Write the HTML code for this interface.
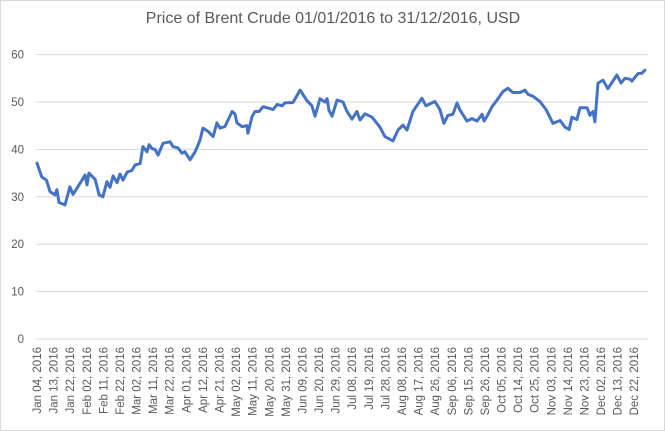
<!DOCTYPE html>
<html><head><meta charset="utf-8"><style>
body{margin:0;background:#fff;}
svg{display:block;font-family:"Liberation Sans",sans-serif;}
</style></head><body>
<svg id="chart" width="665" height="431" viewBox="0 0 665 431">
<rect x="0.5" y="0.5" width="664" height="430" fill="#fff" stroke="#d9d9d9"/>
<text x="333" y="23" text-anchor="middle" font-size="16" fill="#595959">Price of Brent Crude 01/01/2016 to 31/12/2016, USD</text>
<g id="grid"></g><g id="yticks"></g><g id="xticks"></g><g id="series"></g>
</svg>
<script>
const yTicks=[0,10,20,30,40,50,60];
const xLabels=["Jan 04, 2016","Jan 13, 2016","Jan 22, 2016","Feb 02, 2016","Feb 11, 2016","Feb 22, 2016","Mar 02, 2016","Mar 11, 2016","Mar 22, 2016","Apr 01, 2016","Apr 12, 2016","Apr 21, 2016","May 02, 2016","May 11, 2016","May 20, 2016","May 31, 2016","Jun 09, 2016","Jun 20, 2016","Jun 29, 2016","Jul 08, 2016","Jul 19, 2016","Jul 28, 2016","Aug 08, 2016","Aug 17, 2016","Aug 26, 2016","Sep 06, 2016","Sep 15, 2016","Sep 26, 2016","Oct 05, 2016","Oct 14, 2016","Oct 25, 2016","Nov 03, 2016","Nov 14, 2016","Nov 23, 2016","Dec 02, 2016","Dec 13, 2016","Dec 22, 2016"];
const dayIndex=[0,2,4,5.5,7.6,8.4,9.3,11.8,13.9,15.2,19,20.3,21.1,21.9,24.5,26.2,27.8,29.5,30.8,32.1,33.8,35,36.3,38,40.1,41.4,43.5,44.7,46.4,47.3,48.5,49.8,51.1,53.2,56.1,57.4,59.5,61.2,62.4,64.6,66.7,68.8,70,72.2,74.3,75.9,77.2,79.3,82.3,83.5,84.4,86.5,88.6,89,90.7,92,93.7,95.4,98.3,99.6,101.3,103.4,104.6,108,111,113.9,116,117.3,119.4,121.5,122.4,123.2,124.5,126.6,129.1,130.8,132.9,135,136.3,138.4,141.4,144.7,146.8,150.2,152.3,154.4,156.1,158.6,162.4,164.1,165.8,167.9,170,171.7,173.4,175.5,177.2,178.5,181.4,183.5,185.7,187.8,188.6,189.9,192,194.1,196.6,198.7,200.8,203.8,205.9,207.2,209.3,212.2,214.8,217.7,220.7,222.8,224.5,225.7,227.8,229.1,232.1,233.3,234.6,235.4,236.7,238.8,240.9,244.7,246.4,248.1,250.2,251,253.6,255.3,256.5];
const price=[37.1,34.2,33.5,31.1,30.4,31.5,28.8,28.3,32.1,30.5,33.5,34.6,32.5,35,33.7,30.4,30,33.2,32,34.4,33,34.8,33.5,35.2,35.6,36.7,37,40.6,39.5,41,40.2,40,38.8,41.3,41.6,40.6,40.3,39.2,39.5,37.8,39.5,42,44.5,43.8,42.7,45.6,44.5,44.8,48,47.5,45.6,44.8,45,43.4,46.9,48,48,49,48.6,48.4,49.5,49.2,49.8,49.9,52.5,50.3,49.2,47,50.7,50,50.7,48.2,47,50.4,50,48,46.4,48,46.2,47.5,46.8,44.7,42.7,41.8,44.1,45.1,44.1,48,50.8,49.2,49.6,50.1,48.4,45.5,47.2,47.4,49.8,48.3,46,46.5,46,47.4,46,47,49,50.4,52.2,52.9,52,52,52.5,51.6,51.2,50.1,48.4,45.5,46.1,44.7,44.2,46.8,46.3,48.8,48.8,47.2,48,45.8,54,54.6,52.8,55.7,54,55,54.8,54.4,56,56.1,56.7];
const NS="http://www.w3.org/2000/svg";
const xS=i=>37+i*2.37;
const yS=v=>339-v*4.74;
const grid=document.getElementById('grid'),yt=document.getElementById('yticks'),xt=document.getElementById('xticks'),ser=document.getElementById('series');
yTicks.forEach(v=>{
 const l=document.createElementNS(NS,'line');
 
 
 l.setAttribute('x1',36);l.setAttribute('x2',648);l.setAttribute('y1',yS(v));l.setAttribute('y2',yS(v));
 l.setAttribute('stroke','#d9d9d9');l.setAttribute('stroke-width','1');
 grid.appendChild(l);
 const t=document.createElementNS(NS,'text');
 
 
 t.setAttribute('x',24);t.setAttribute('y',yS(v)+4);t.setAttribute('text-anchor','end');
 t.setAttribute('font-size','11.5');t.setAttribute('fill','#595959');t.textContent=v;
 yt.appendChild(t);
});
xLabels.forEach((s,k)=>{
 const x=xS(k*7);
 const t=document.createElementNS(NS,'text');
 
 
 t.setAttribute('transform','translate('+(x+4)+',347) rotate(-90)');
 t.setAttribute('text-anchor','end');
 t.setAttribute('font-size','11.5');t.setAttribute('fill','#595959');t.textContent=s;
 xt.appendChild(t);
});
const p=document.createElementNS(NS,'path');


p.setAttribute('d',price.map((v,i)=>(i?'L':'M')+xS(dayIndex[i]).toFixed(1)+','+yS(v).toFixed(1)).join(''));
p.setAttribute('fill','none');p.setAttribute('stroke','#4472c4');p.setAttribute('stroke-width','3');p.setAttribute('stroke-linejoin','round');p.setAttribute('stroke-linecap','round');
ser.appendChild(p);
</script>
</body></html>
